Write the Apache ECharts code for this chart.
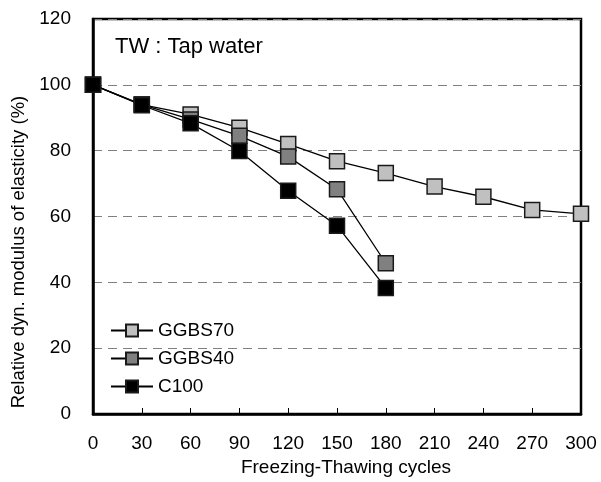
<!DOCTYPE html>
<html>
<head>
<meta charset="utf-8">
<script src="https://cdn.jsdelivr.net/npm/echarts@6/dist/echarts.min.js"></script>
<style>html,body{margin:0;padding:0;background:#fff}#c{width:601px;height:482px}</style>
</head>
<body>
<div id="c"></div>
<script>
const cycles = [0, 30, 60, 90, 120, 150, 180, 210, 240, 270, 300];
const ggbs70 = [100, 94, 91, 87, 82, 76.8, 73.2, 69.1, 66.0, 62.0, 60.8];
const ggbs40 = [100, 94, 89.5, 84.5, 78.2, 68.3, 45.8];
const c100 = [100, 93.8, 88.3, 79.9, 67.8, 57.2, 38.3];
const seriesNames = ['GGBS70', 'GGBS40', 'C100'];
const seriesColors = ['#c0c0c0', '#808080', '#000000'];
const titleText = 'TW : Tap water';
const xName = 'Freezing-Thawing cycles';
const yName = 'Relative dyn. modulus of elasticity (%)';

const font = 'Arial, "Liberation Sans", sans-serif';
const chart = echarts.init(document.getElementById('c'), null, {renderer: 'canvas'});
function pairs(vals) { return vals.map((v, i) => [cycles[i], v]); }
const allData = [ggbs70, ggbs40, c100];
chart.setOption({
  animation: false,
  backgroundColor: '#fff',
  title: {
    text: titleText, left: 110, top: 31,
    textStyle: {fontFamily: font, fontSize: 22, fontWeight: 'normal', color: '#000'}
  },
  grid: {left: 93, right: 20, top: 19, bottom: 68, show: true, borderColor: '#000', borderWidth: 2.5, backgroundColor: 'transparent'},
  legend: {
    orient: 'vertical', left: 105, top: 316, itemWidth: 42, itemHeight: 15, itemGap: 9,
    data: seriesNames,
    textStyle: {fontFamily: font, fontSize: 19, color: '#000'}
  },
  xAxis: {
    type: 'value', min: 0, max: 300, interval: 30,
    name: xName, nameLocation: 'middle', nameGap: 44,
    nameTextStyle: {fontFamily: font, fontSize: 19, color: '#000', padding: [0, 0, 0, 18]},
    axisLine: {show: true, lineStyle: {color: '#000', width: 2.5}},
    axisTick: {show: true, inside: true, length: 6, lineStyle: {color: '#000', width: 1}},
    axisLabel: {fontFamily: font, fontSize: 19, color: '#000', margin: 20},
    splitLine: {show: false}
  },
  yAxis: {
    type: 'value', min: 0, max: 120, interval: 20,
    name: yName, nameLocation: 'middle', nameGap: 65,
    nameTextStyle: {fontFamily: font, fontSize: 18.5, color: '#000', padding: [0, 71, 0, 0]},
    axisLine: {show: true, lineStyle: {color: '#000', width: 2.5}},
    axisTick: {show: false},
    axisLabel: {fontFamily: font, fontSize: 19, color: '#000', margin: 22},
    splitLine: {show: true, lineStyle: {color: '#808080', width: 1, type: [9, 6]}}
  },
  series: seriesNames.map((n, i) => ({
    name: n, type: 'line', data: pairs(allData[i]),
    symbol: 'rect', symbolSize: 15,
    itemStyle: {color: seriesColors[i], borderColor: '#1a1a1a', borderWidth: 1.5},
    lineStyle: {color: '#000', width: 1.3},
    z: 2 + i
  }))
});
</script>
</body>
</html>
